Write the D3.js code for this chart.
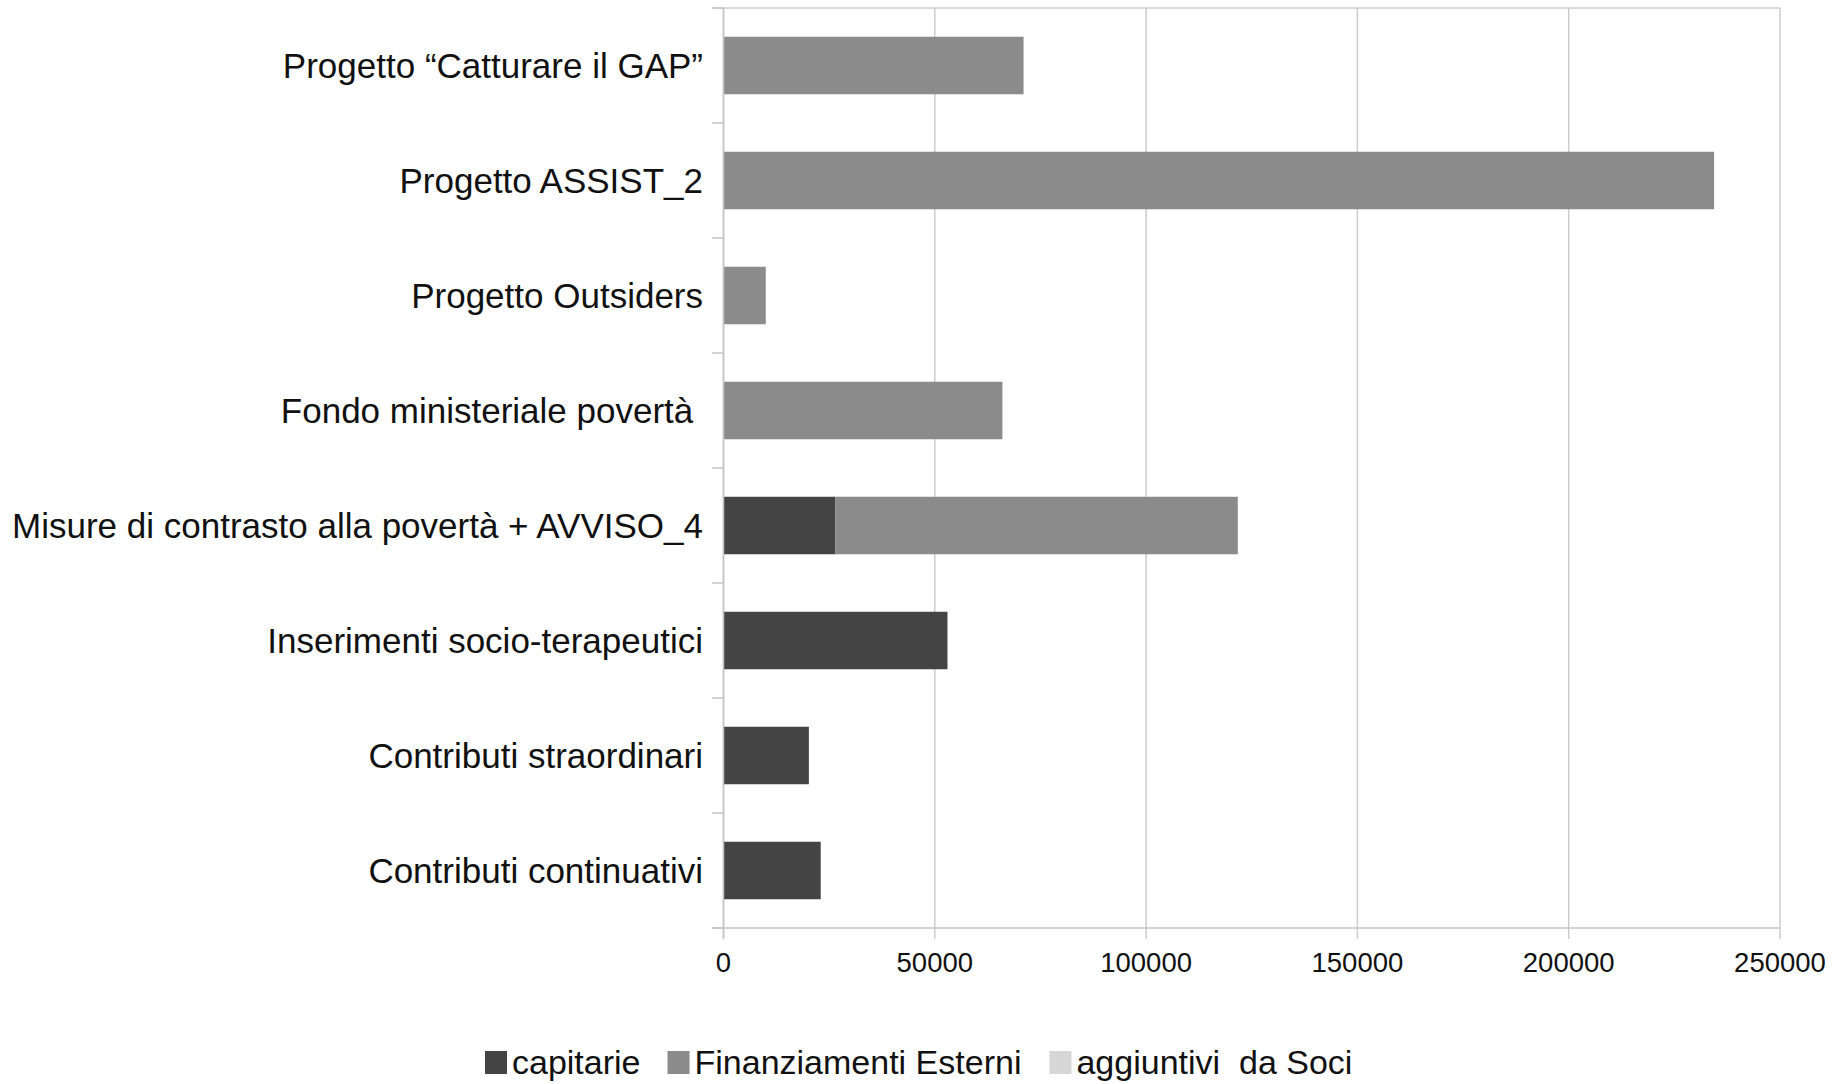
<!DOCTYPE html>
<html>
<head>
<meta charset="utf-8">
<script src="https://cdn.jsdelivr.net/npm/d3@7"></script>
<style>
  html, body { margin: 0; padding: 0; background: #fff; }
  svg { display: block; font-family: "Liberation Sans", Arial, sans-serif; }
</style>
</head>
<body>
<div id="chart"></div>
<script>
// categories, top to bottom
const categories = [
    "Progetto \u201cCatturare il GAP\u201d",
    "Progetto ASSIST_2",
    "Progetto Outsiders",
    "Fondo ministeriale povert\u00e0 ",
    "Misure di contrasto alla povert\u00e0 + AVVISO_4",
    "Inserimenti socio-terapeutici",
    "Contributi straordinari",
    "Contributi continuativi"
];

// series values
const capitarie = [0, 0, 0, 0, 26500, 53000, 20200, 23000];
const finanziamentiEsterni = [71000, 234400, 10000, 66000, 95200, 0, 0, 0];
const aggiuntiviSoci = [0, 0, 0, 0, 0, 0, 0, 0];

const seriesNames = ["capitarie", "Finanziamenti Esterni", "aggiuntivi  da Soci"];
const seriesColors = ["#444444", "#8b8b8b", "#d6d6d6"];

// tick labels
const xTicks = [0, 50000, 100000, 150000, 200000, 250000];

const width = 1843, height = 1084;
const plotLeft = 723.5, plotRight = 1780, plotTop = 8, plotBottom = 928;

const svg = d3.select("#chart").append("svg")
    .attr("width", width)
    .attr("height", height);

// build stacked rows from the named arrays
const rows = categories.map((c, i) => ({
    cat: c,
    capitarie: capitarie[i],
    fin: finanziamentiEsterni[i],
    soci: aggiuntiviSoci[i]
}));
const stack = d3.stack().keys(["capitarie", "fin", "soci"]);
const layers = stack(rows);

const x = d3.scaleLinear().domain([0, 250000]).range([plotLeft, plotRight]);
const y = d3.scaleBand().domain(categories).range([plotTop, plotBottom])
    .paddingInner(0.5).paddingOuter(0.25);

// vertical gridlines (extend below the axis as ticks)
svg.append("g")
    .selectAll("line")
    .data(xTicks)
    .enter()
    .append("line")
    .attr("x1", d => x(d))
    .attr("x2", d => x(d))
    .attr("y1", plotTop)
    .attr("y2", plotBottom + 11)
    .attr("stroke", "#cccccc")
    .attr("stroke-width", 1.5);

// top border
svg.append("line")
    .attr("x1", plotLeft - 11.5).attr("x2", plotRight)
    .attr("y1", plotTop).attr("y2", plotTop)
    .attr("stroke", "#cccccc").attr("stroke-width", 1.5);

// category axis ticks at band boundaries
const step = y.step();
const bounds = d3.range(categories.length + 1).map(i => plotTop + i * step);
svg.append("g")
    .selectAll("line")
    .data(bounds)
    .enter()
    .append("line")
    .attr("x1", plotLeft - 11.5)
    .attr("x2", plotLeft)
    .attr("y1", d => d)
    .attr("y2", d => d)
    .attr("stroke", "#c4c4c4")
    .attr("stroke-width", 1.5);

// bars
svg.append("g")
    .selectAll("g")
    .data(layers)
    .enter()
    .append("g")
    .attr("fill", (d, i) => seriesColors[i])
    .selectAll("rect")
    .data(d => d.filter(v => v[1] > v[0]))
    .enter()
    .append("rect")
    .attr("x", d => x(d[0]))
    .attr("width", d => x(d[1]) - x(d[0]))
    .attr("y", d => y(d.data.cat))
    .attr("height", y.bandwidth());

// axis lines
svg.append("line")
    .attr("x1", plotLeft).attr("x2", plotLeft)
    .attr("y1", plotTop).attr("y2", plotBottom + 11)
    .attr("stroke", "#c4c4c4").attr("stroke-width", 1.5);
svg.append("line")
    .attr("x1", plotLeft - 11.5).attr("x2", plotRight)
    .attr("y1", plotBottom).attr("y2", plotBottom)
    .attr("stroke", "#c4c4c4").attr("stroke-width", 1.5);

// x tick labels
svg.append("g")
    .selectAll("text")
    .data(xTicks)
    .enter()
    .append("text")
    .attr("x", d => x(d))
    .attr("y", 971.5)
    .attr("text-anchor", "middle")
    .attr("font-size", "27.5px")
    .attr("fill", "#111")
    .text(d => d);

// category labels
svg.append("g")
    .selectAll("text")
    .data(categories)
    .enter()
    .append("text")
    .attr("x", 703)
    .attr("y", d => y(d) + y.bandwidth() / 2)
    .attr("dy", "0.35em")
    .attr("text-anchor", "end")
    .attr("font-size", "35px")
    .attr("fill", "#111")
    .style("white-space", "pre")
    .text(d => d);

// legend
const legend = svg.append("g");
let lx = 485;
const gaps = [27, 28, 0];
seriesNames.forEach((name, i) => {
    legend.append("rect")
        .attr("x", lx)
        .attr("y", 1051)
        .attr("width", 22)
        .attr("height", 23)
        .attr("fill", seriesColors[i]);
    const t = legend.append("text")
        .attr("x", lx + 27)
        .attr("y", 1074)
        .attr("font-size", "34px")
        .attr("fill", "#111")
        .style("white-space", "pre")
        .text(name);
    lx = lx + 27 + t.node().getComputedTextLength() + gaps[i];
});
</script>
</body>
</html>
